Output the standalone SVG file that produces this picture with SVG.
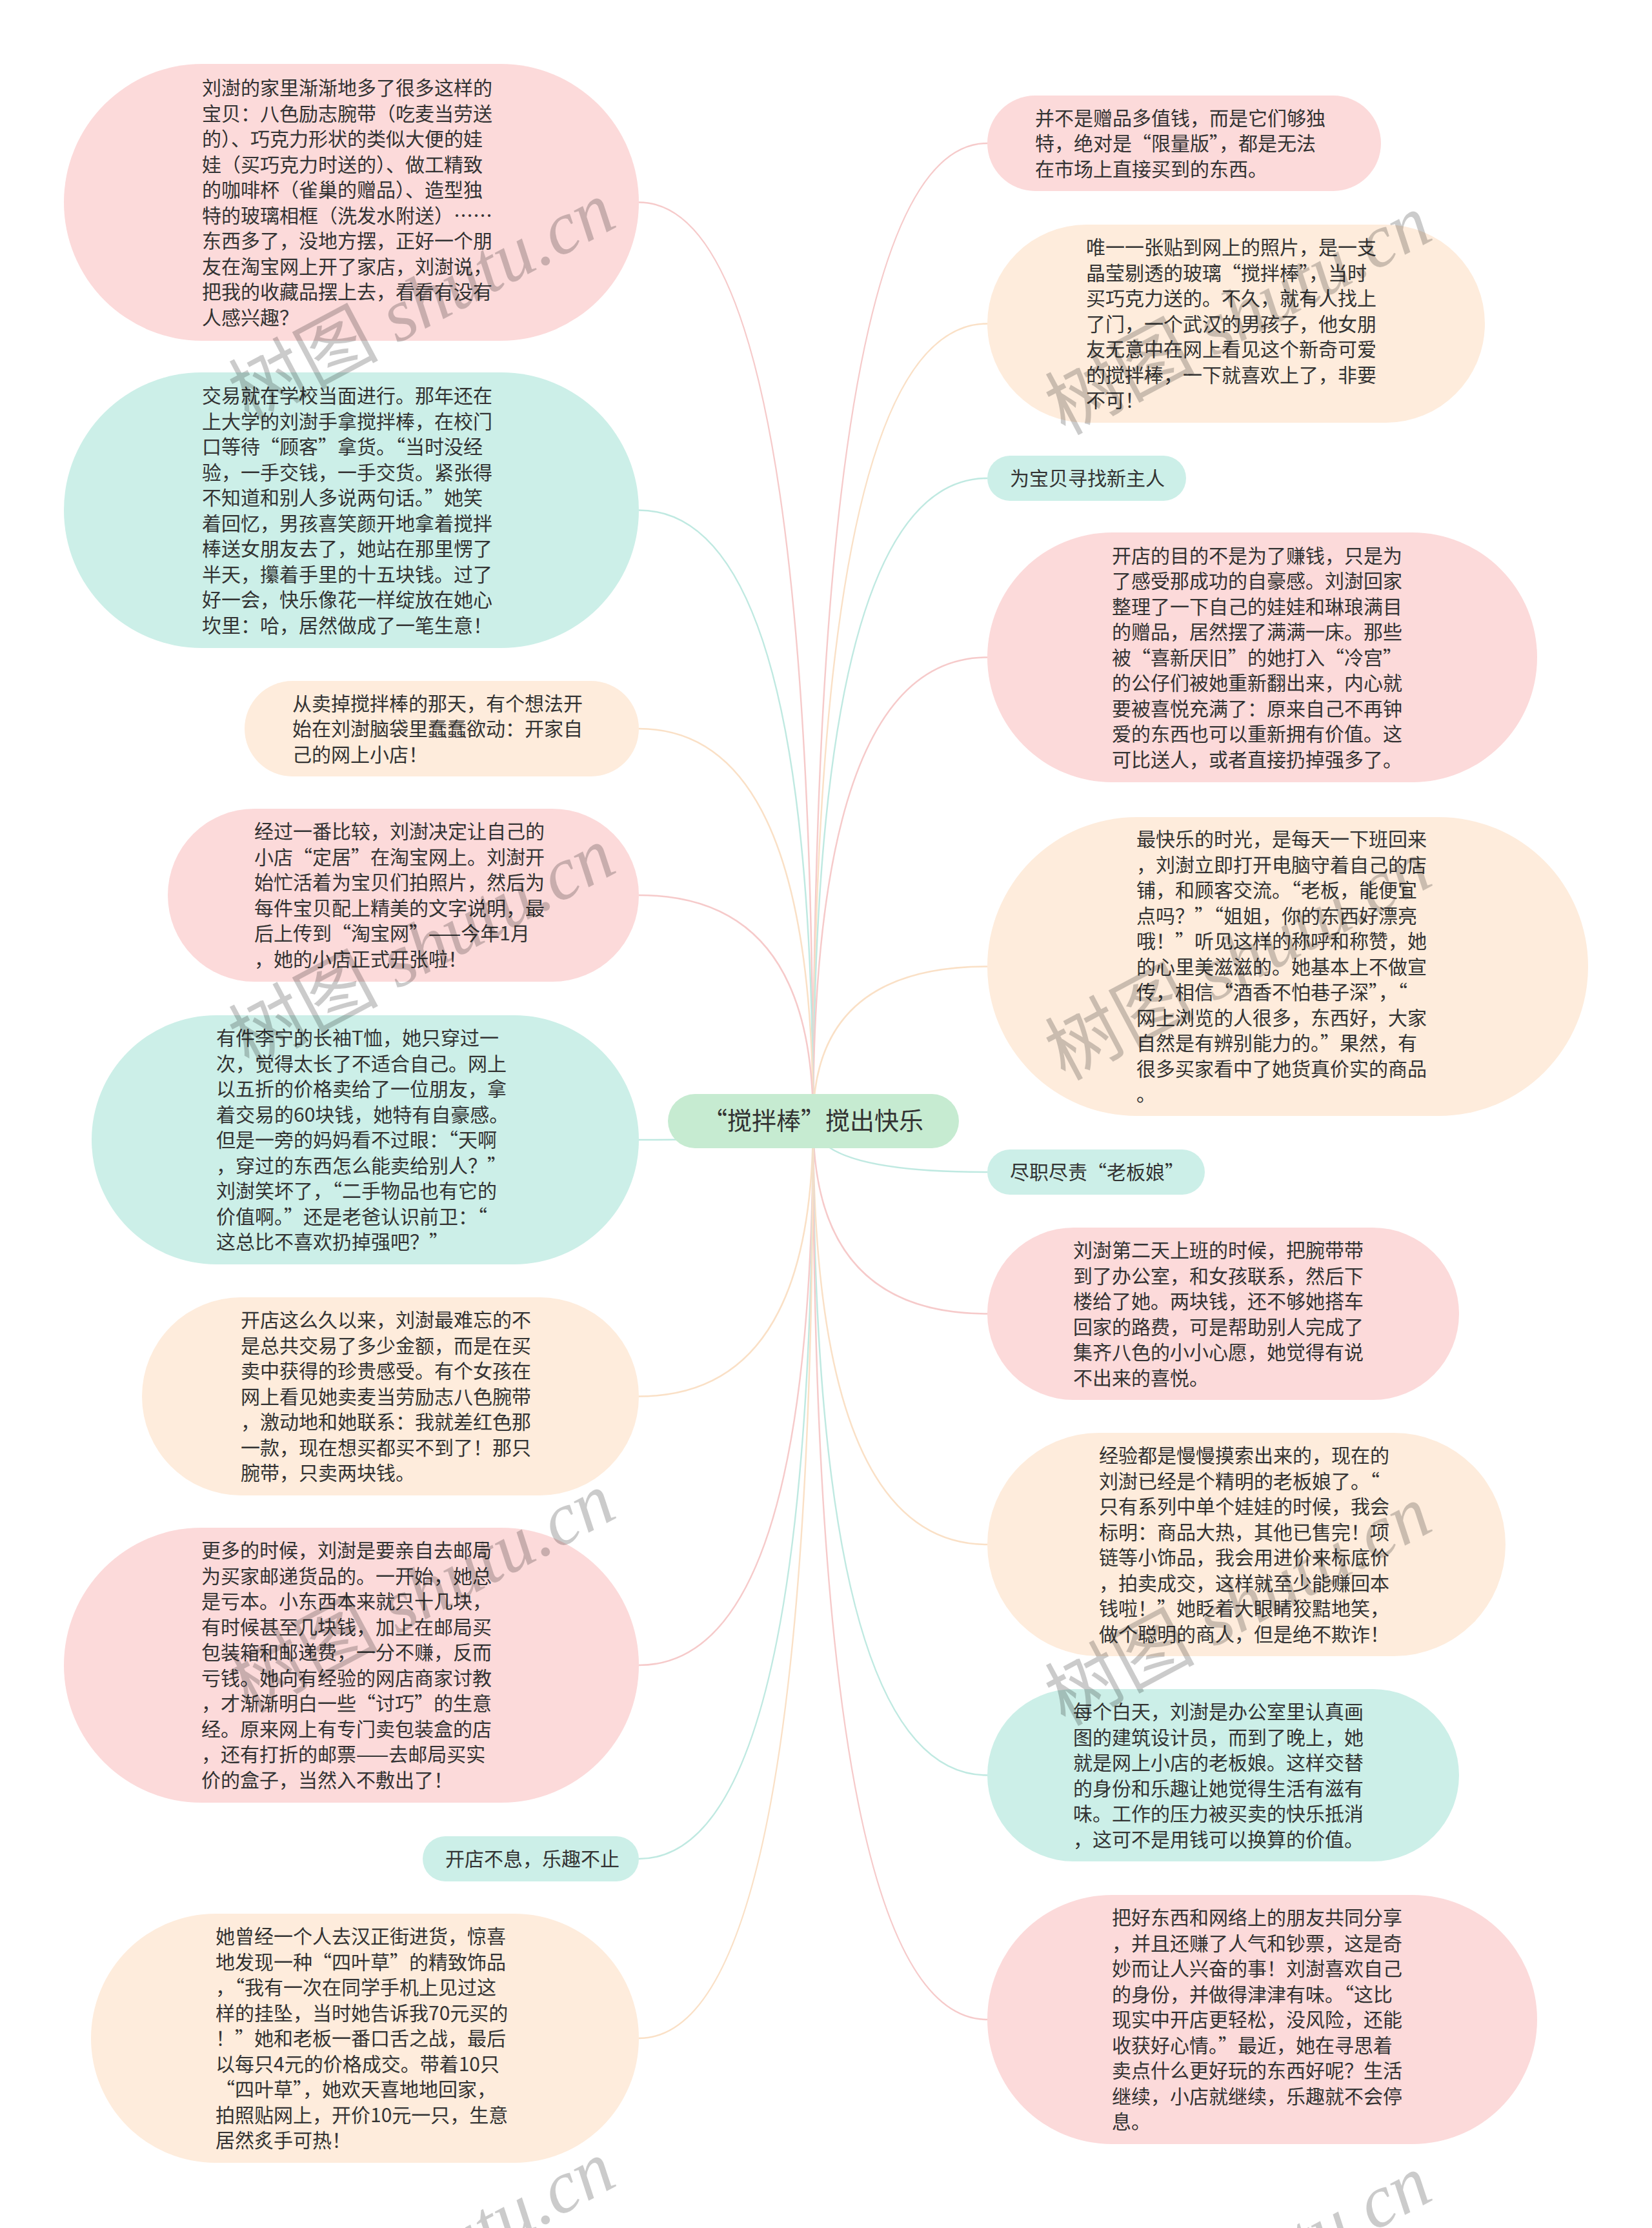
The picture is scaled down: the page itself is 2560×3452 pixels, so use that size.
<svg xmlns="http://www.w3.org/2000/svg" width="2560" height="3452" viewBox="0 0 2560 3452">
<style>
.pink{fill:#fcdada}
.peach{fill:#feecdc}
.mint{fill:#ccefe8}
.root{fill:#c6ebd1}
.t{font-family:'Noto Sans CJK SC','Liberation Sans',sans-serif;font-size:30px;fill:#333333}
.q{font-feature-settings:"fwid" 1}
.rt{font-family:'Noto Sans CJK SC','Liberation Sans',sans-serif;font-size:38px;fill:#333333}
.c{fill:none;stroke-width:2.5}
.cp{stroke:#f6caca}
.ce{stroke:#fae0c6}
.cm{stroke:#bfe9e1}
.wm{font-family:'Liberation Serif','Noto Sans CJK SC',serif;font-size:116px;fill:#000000;opacity:0.2}
</style>
<rect x="0" y="0" width="2560" height="3452" fill="#ffffff"/>
<g id="connectors">
<path class="c cp" d="M1260 1737 Q1260 222 1530 222"/>
<path class="c ce" d="M1260 1737 Q1260 501.5 1530 501.5"/>
<path class="c cm" d="M1260 1737 Q1260 741 1530 741"/>
<path class="c cp" d="M1260 1737 Q1260 1018.5 1530 1018.5"/>
<path class="c ce" d="M1260 1737 Q1260 1497.5 1530 1497.5"/>
<path class="c cm" d="M1260 1737 Q1260 1816 1530 1816"/>
<path class="c cp" d="M1260 1737 Q1260 2035.5 1530 2035.5"/>
<path class="c ce" d="M1260 1737 Q1260 2393 1530 2393"/>
<path class="c cm" d="M1260 1737 Q1260 2750.5 1530 2750.5"/>
<path class="c cp" d="M1260 1737 Q1260 3129 1530 3129"/>
<path class="c cp" d="M1260 1737 Q1260 313.5 990 313.5"/>
<path class="c cm" d="M1260 1737 Q1260 790.5 990 790.5"/>
<path class="c ce" d="M1260 1737 Q1260 1129 990 1129"/>
<path class="c cp" d="M1260 1737 Q1260 1387 990 1387"/>
<path class="c cm" d="M1260 1737 Q1260 1766 990 1766"/>
<path class="c ce" d="M1260 1737 Q1260 2163.5 990 2163.5"/>
<path class="c cp" d="M1260 1737 Q1260 2580 990 2580"/>
<path class="c cm" d="M1260 1737 Q1260 2880 990 2880"/>
<path class="c ce" d="M1260 1737 Q1260 3158 990 3158"/>
</g>
<g id="root">
<rect class="root" x="1035" y="1695" width="451" height="84" rx="42"/>
<text class="rt" x="1260" y="1750" text-anchor="middle">“搅拌棒”搅出快乐</text>
</g>
<g id="L1">
<rect class="pink" x="99" y="99" width="891" height="429" rx="214.5"/>
<text class="t"><tspan x="313" y="147">刘澍的家里渐渐地多了很多这样的</tspan><tspan x="313" y="186.5">宝贝：八色励志腕带（吃麦当劳送</tspan><tspan x="313" y="226">的）、巧克力形状的类似大便的娃</tspan><tspan x="313" y="265.5">娃（买巧克力时送的）、做工精致</tspan><tspan x="313" y="305">的咖啡杯（雀巢的赠品）、造型独</tspan><tspan x="313" y="344.5">特的玻璃相框（洗发水附送）……</tspan><tspan x="313" y="384">东西多了，没地方摆，正好一个朋</tspan><tspan x="313" y="423.5">友在淘宝网上开了家店，刘澍说，</tspan><tspan x="313" y="463">把我的收藏品摆上去，看看有没有</tspan><tspan x="313" y="502.5">人感兴趣？</tspan></text>
</g>
<g id="L2">
<rect class="mint" x="99" y="577" width="891" height="427" rx="213.5"/>
<text class="t"><tspan x="313" y="624">交易就在学校当面进行。那年还在</tspan><tspan x="313" y="663.5">上大学的刘澍手拿搅拌棒，在校门</tspan><tspan x="313" y="703">口等待<tspan class="q">“</tspan>顾客<tspan class="q">”</tspan>拿货。<tspan class="q">“</tspan>当时没经</tspan><tspan x="313" y="742.5">验，一手交钱，一手交货。紧张得</tspan><tspan x="313" y="782">不知道和别人多说两句话。<tspan class="q">”</tspan>她笑</tspan><tspan x="313" y="821.5">着回忆，男孩喜笑颜开地拿着搅拌</tspan><tspan x="313" y="861">棒送女朋友去了，她站在那里愣了</tspan><tspan x="313" y="900.5">半天，攥着手里的十五块钱。过了</tspan><tspan x="313" y="940">好一会，快乐像花一样绽放在她心</tspan><tspan x="313" y="979.5">坎里：哈，居然做成了一笔生意！</tspan></text>
</g>
<g id="L3">
<rect class="peach" x="379" y="1055" width="611" height="148" rx="74"/>
<text class="t"><tspan x="453" y="1100.5">从卖掉搅拌棒的那天，有个想法开</tspan><tspan x="453" y="1140">始在刘澍脑袋里蠢蠢欲动：开家自</tspan><tspan x="453" y="1179.5">己的网上小店！</tspan></text>
</g>
<g id="L4">
<rect class="pink" x="260" y="1253" width="730" height="268" rx="134"/>
<text class="t"><tspan x="394" y="1299">经过一番比较，刘澍决定让自己的</tspan><tspan x="394" y="1338.5">小店<tspan class="q">“</tspan>定居<tspan class="q">”</tspan>在淘宝网上。刘澍开</tspan><tspan x="394" y="1378">始忙活着为宝贝们拍照片，然后为</tspan><tspan x="394" y="1417.5">每件宝贝配上精美的文字说明，最</tspan><tspan x="394" y="1457">后上传到<tspan class="q">“</tspan>淘宝网<tspan class="q">”</tspan>——今年1月</tspan><tspan x="394" y="1496.5">，她的小店正式开张啦！</tspan></text>
</g>
<g id="L5">
<rect class="mint" x="142" y="1573" width="848" height="386" rx="193"/>
<text class="t"><tspan x="335" y="1619">有件李宁的长袖T恤，她只穿过一</tspan><tspan x="335" y="1658.5">次，觉得太长了不适合自己。网上</tspan><tspan x="335" y="1698">以五折的价格卖给了一位朋友，拿</tspan><tspan x="335" y="1737.5">着交易的60块钱，她特有自豪感。</tspan><tspan x="335" y="1777">但是一旁的妈妈看不过眼：<tspan class="q">“</tspan>天啊</tspan><tspan x="335" y="1816.5">，穿过的东西怎么能卖给别人？<tspan class="q">”</tspan></tspan><tspan x="335" y="1856">刘澍笑坏了，<tspan class="q">“</tspan>二手物品也有它的</tspan><tspan x="335" y="1895.5">价值啊。<tspan class="q">”</tspan>还是老爸认识前卫：<tspan class="q">“</tspan></tspan><tspan x="335" y="1935">这总比不喜欢扔掉强吧？<tspan class="q">”</tspan></tspan></text>
</g>
<g id="L6">
<rect class="peach" x="220" y="2010" width="770" height="307" rx="153.5"/>
<text class="t"><tspan x="373" y="2056">开店这么久以来，刘澍最难忘的不</tspan><tspan x="373" y="2095.5">是总共交易了多少金额，而是在买</tspan><tspan x="373" y="2135">卖中获得的珍贵感受。有个女孩在</tspan><tspan x="373" y="2174.5">网上看见她卖麦当劳励志八色腕带</tspan><tspan x="373" y="2214">，激动地和她联系：我就差红色那</tspan><tspan x="373" y="2253.5">一款，现在想买都买不到了！那只</tspan><tspan x="373" y="2293">腕带，只卖两块钱。</tspan></text>
</g>
<g id="L7">
<rect class="pink" x="99" y="2367" width="891" height="426" rx="213"/>
<text class="t"><tspan x="312" y="2413">更多的时候，刘澍是要亲自去邮局</tspan><tspan x="312" y="2452.5">为买家邮递货品的。一开始，她总</tspan><tspan x="312" y="2492">是亏本。小东西本来就只十几块，</tspan><tspan x="312" y="2531.5">有时候甚至几块钱，加上在邮局买</tspan><tspan x="312" y="2571">包装箱和邮递费，一分不赚，反而</tspan><tspan x="312" y="2610.5">亏钱。她向有经验的网店商家讨教</tspan><tspan x="312" y="2650">，才渐渐明白一些<tspan class="q">“</tspan>讨巧<tspan class="q">”</tspan>的生意</tspan><tspan x="312" y="2689.5">经。原来网上有专门卖包装盒的店</tspan><tspan x="312" y="2729">，还有打折的邮票——去邮局买实</tspan><tspan x="312" y="2768.5">价的盒子，当然入不敷出了！</tspan></text>
</g>
<g id="L8">
<rect class="mint" x="655" y="2845" width="335" height="70" rx="35"/>
<text class="t" x="690" y="2891">开店不息，乐趣不止</text>
</g>
<g id="L9">
<rect class="peach" x="141" y="2965" width="849" height="386" rx="193"/>
<text class="t"><tspan x="334" y="3011">她曾经一个人去汉正街进货，惊喜</tspan><tspan x="334" y="3050.5">地发现一种<tspan class="q">“</tspan>四叶草<tspan class="q">”</tspan>的精致饰品</tspan><tspan x="334" y="3090">，<tspan class="q">“</tspan>我有一次在同学手机上见过这</tspan><tspan x="334" y="3129.5">样的挂坠，当时她告诉我70元买的</tspan><tspan x="334" y="3169">！<tspan class="q">”</tspan>她和老板一番口舌之战，最后</tspan><tspan x="334" y="3208.5">以每只4元的价格成交。带着10只</tspan><tspan x="334" y="3248"><tspan class="q">“</tspan>四叶草<tspan class="q">”</tspan>，她欢天喜地地回家，</tspan><tspan x="334" y="3287.5">拍照贴网上，开价10元一只，生意</tspan><tspan x="334" y="3327">居然炙手可热！</tspan></text>
</g>
<g id="R1">
<rect class="pink" x="1530" y="148" width="610" height="148" rx="74"/>
<text class="t"><tspan x="1604" y="193.5">并不是赠品多值钱，而是它们够独</tspan><tspan x="1604" y="233">特，绝对是<tspan class="q">“</tspan>限量版<tspan class="q">”</tspan>，都是无法</tspan><tspan x="1604" y="272.5">在市场上直接买到的东西。</tspan></text>
</g>
<g id="R2">
<rect class="peach" x="1530" y="348" width="771" height="307" rx="153.5"/>
<text class="t"><tspan x="1683" y="394">唯一一张贴到网上的照片，是一支</tspan><tspan x="1683" y="433.5">晶莹剔透的玻璃<tspan class="q">“</tspan>搅拌棒<tspan class="q">”</tspan>，当时</tspan><tspan x="1683" y="473">买巧克力送的。不久，就有人找上</tspan><tspan x="1683" y="512.5">了门，一个武汉的男孩子，他女朋</tspan><tspan x="1683" y="552">友无意中在网上看见这个新奇可爱</tspan><tspan x="1683" y="591.5">的搅拌棒，一下就喜欢上了，非要</tspan><tspan x="1683" y="631">不可！</tspan></text>
</g>
<g id="R3">
<rect class="mint" x="1530" y="706" width="308" height="70" rx="35"/>
<text class="t" x="1565" y="752">为宝贝寻找新主人</text>
</g>
<g id="R4">
<rect class="pink" x="1530" y="825" width="852" height="387" rx="193.5"/>
<text class="t"><tspan x="1723" y="871.5">开店的目的不是为了赚钱，只是为</tspan><tspan x="1723" y="911">了感受那成功的自豪感。刘澍回家</tspan><tspan x="1723" y="950.5">整理了一下自己的娃娃和琳琅满目</tspan><tspan x="1723" y="990">的赠品，居然摆了满满一床。那些</tspan><tspan x="1723" y="1029.5">被<tspan class="q">“</tspan>喜新厌旧<tspan class="q">”</tspan>的她打入<tspan class="q">“</tspan>冷宫<tspan class="q">”</tspan></tspan><tspan x="1723" y="1069">的公仔们被她重新翻出来，内心就</tspan><tspan x="1723" y="1108.5">要被喜悦充满了：原来自己不再钟</tspan><tspan x="1723" y="1148">爱的东西也可以重新拥有价值。这</tspan><tspan x="1723" y="1187.5">可比送人，或者直接扔掉强多了。</tspan></text>
</g>
<g id="R5">
<rect class="peach" x="1530" y="1266" width="931" height="463" rx="231.5"/>
<text class="t"><tspan x="1761" y="1311">最快乐的时光，是每天一下班回来</tspan><tspan x="1761" y="1350.5">，刘澍立即打开电脑守着自己的店</tspan><tspan x="1761" y="1390">铺，和顾客交流。<tspan class="q">“</tspan>老板，能便宜</tspan><tspan x="1761" y="1429.5">点吗？<tspan class="q">”“</tspan>姐姐，你的东西好漂亮</tspan><tspan x="1761" y="1469">哦！<tspan class="q">”</tspan>听见这样的称呼和称赞，她</tspan><tspan x="1761" y="1508.5">的心里美滋滋的。她基本上不做宣</tspan><tspan x="1761" y="1548">传，相信<tspan class="q">“</tspan>酒香不怕巷子深<tspan class="q">”</tspan>，<tspan class="q">“</tspan></tspan><tspan x="1761" y="1587.5">网上浏览的人很多，东西好，大家</tspan><tspan x="1761" y="1627">自然是有辨别能力的。<tspan class="q">”</tspan>果然，有</tspan><tspan x="1761" y="1666.5">很多买家看中了她货真价实的商品</tspan><tspan x="1761" y="1706">。</tspan></text>
</g>
<g id="R6">
<rect class="mint" x="1530" y="1781" width="337" height="70" rx="35"/>
<text class="t" x="1565" y="1827">尽职尽责<tspan class="q">“</tspan>老板娘<tspan class="q">”</tspan></text>
</g>
<g id="R7">
<rect class="pink" x="1530" y="1902" width="731" height="267" rx="133.5"/>
<text class="t"><tspan x="1663" y="1948">刘澍第二天上班的时候，把腕带带</tspan><tspan x="1663" y="1987.5">到了办公室，和女孩联系，然后下</tspan><tspan x="1663" y="2027">楼给了她。两块钱，还不够她搭车</tspan><tspan x="1663" y="2066.5">回家的路费，可是帮助别人完成了</tspan><tspan x="1663" y="2106">集齐八色的小小心愿，她觉得有说</tspan><tspan x="1663" y="2145.5">不出来的喜悦。</tspan></text>
</g>
<g id="R8">
<rect class="peach" x="1530" y="2220" width="803" height="346" rx="173"/>
<text class="t"><tspan x="1703" y="2266">经验都是慢慢摸索出来的，现在的</tspan><tspan x="1703" y="2305.5">刘澍已经是个精明的老板娘了。<tspan class="q">“</tspan></tspan><tspan x="1703" y="2345">只有系列中单个娃娃的时候，我会</tspan><tspan x="1703" y="2384.5">标明：商品大热，其他已售完！项</tspan><tspan x="1703" y="2424">链等小饰品，我会用进价来标底价</tspan><tspan x="1703" y="2463.5">，拍卖成交，这样就至少能赚回本</tspan><tspan x="1703" y="2503">钱啦！<tspan class="q">”</tspan>她眨着大眼睛狡黠地笑，</tspan><tspan x="1703" y="2542.5">做个聪明的商人，但是绝不欺诈！</tspan></text>
</g>
<g id="R9">
<rect class="mint" x="1530" y="2617" width="731" height="267" rx="133.5"/>
<text class="t"><tspan x="1663" y="2663">每个白天，刘澍是办公室里认真画</tspan><tspan x="1663" y="2702.5">图的建筑设计员，而到了晚上，她</tspan><tspan x="1663" y="2742">就是网上小店的老板娘。这样交替</tspan><tspan x="1663" y="2781.5">的身份和乐趣让她觉得生活有滋有</tspan><tspan x="1663" y="2821">味。工作的压力被买卖的快乐抵消</tspan><tspan x="1663" y="2860.5">，这可不是用钱可以换算的价值。</tspan></text>
</g>
<g id="R10">
<rect class="pink" x="1530" y="2936" width="852" height="386" rx="193"/>
<text class="t"><tspan x="1723" y="2982">把好东西和网络上的朋友共同分享</tspan><tspan x="1723" y="3021.5">，并且还赚了人气和钞票，这是奇</tspan><tspan x="1723" y="3061">妙而让人兴奋的事！刘澍喜欢自己</tspan><tspan x="1723" y="3100.5">的身份，并做得津津有味。<tspan class="q">“</tspan>这比</tspan><tspan x="1723" y="3140">现实中开店更轻松，没风险，还能</tspan><tspan x="1723" y="3179.5">收获好心情。<tspan class="q">”</tspan>最近，她在寻思着</tspan><tspan x="1723" y="3219">卖点什么更好玩的东西好呢？生活</tspan><tspan x="1723" y="3258.5">继续，小店就继续，乐趣就不会停</tspan><tspan x="1723" y="3298">息。</tspan></text>
</g>
<g id="watermarks">
<text class="wm" transform="translate(385 655) rotate(-28)">树图 <tspan font-style="italic">shutu.cn</tspan></text>
<text class="wm" transform="translate(1650 675) rotate(-28)">树图 <tspan font-style="italic">shutu.cn</tspan></text>
<text class="wm" transform="translate(385 1655) rotate(-28)">树图 <tspan font-style="italic">shutu.cn</tspan></text>
<text class="wm" transform="translate(1650 1675) rotate(-28)">树图 <tspan font-style="italic">shutu.cn</tspan></text>
<text class="wm" transform="translate(385 2655) rotate(-28)">树图 <tspan font-style="italic">shutu.cn</tspan></text>
<text class="wm" transform="translate(1650 2675) rotate(-28)">树图 <tspan font-style="italic">shutu.cn</tspan></text>
<text class="wm" transform="translate(385 3690) rotate(-28)">树图 <tspan font-style="italic">shutu.cn</tspan></text>
<text class="wm" transform="translate(1650 3712) rotate(-28)">树图 <tspan font-style="italic">shutu.cn</tspan></text>
</g>
</svg>
